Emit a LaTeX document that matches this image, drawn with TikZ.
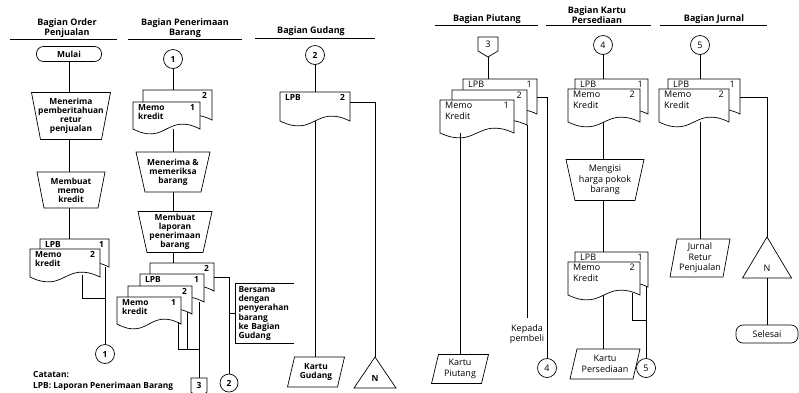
\documentclass[tikz,border=0pt]{standalone}
\usepackage{fontspec}
\setmainfont{Open Sans}
\usetikzlibrary{calc}
\tikzset{
  every node/.style={font=\fontsize{9}{10.4}\selectfont},
  ln/.style={line width=0.7pt, line join=miter},
  hdr/.style={font=\fontsize{9}{10}\selectfont\bfseries, align=center, inner sep=0pt},
  bt/.style={font=\fontsize{8.4}{9.1}\selectfont\bfseries},
  txt/.style={align=center, inner sep=0pt},
  ltxt/.style={align=left, inner sep=0pt},
  frame/.style={rectangle, draw=none, inner sep=0pt, outer sep=0pt},
  term/.style={draw, line width=0.7pt, rounded corners=7pt, inner sep=0pt},
  conn/.style={draw, circle, line width=0.7pt, inner sep=0pt, minimum size=19pt},
}
% document symbol: name, x left, y top, width, side height, text, number, font style
\newcommand\fcdoc[8]{%
  \node[frame, anchor=north west, minimum width=#4pt, minimum height=#5pt] (#1) at (#2,#3) {};
  \filldraw[ln, fill=white] (#1.north west) -- (#1.north east) -- (#1.south east)
    .. controls ($(#1.south)+(0,-17)$) and ($(#1.south)+(0,17)$) .. (#1.south west) -- cycle;
  \node[ltxt, #8, anchor=north west] (#1-t) at ($(#1.north west)+(5,2)$) {#6};
  \node[ltxt, #8, anchor=north east] (#1-n) at ($(#1.north east)+(-5,2)$) {#7};
}
% manual operation: name, centre, width, height, inset, text, font style
\newcommand\fcmanop[7]{%
  \node[frame, #7, minimum width=#3pt, minimum height=#4pt, align=center] (#1) at (#2) {#6};
  \draw[ln] (#1.north west) -- (#1.north east) -- ($(#1.south east)+(-#5,0)$) -- ($(#1.south west)+(#5,0)$) -- cycle;
}
% parallelogram: name, centre, width, height, text, font style
\newcommand\fcpara[6]{%
  \node[frame, #6, minimum width=#3pt, minimum height=#4pt, align=center] (#1) at (#2) {#5};
  \draw[ln] ($(#1.north west)+(7,0)$) -- (#1.north east) -- ($(#1.south east)+(-7,0)$) -- (#1.south west) -- cycle;
}
% triangle: name, centre, width, height, font style
\newcommand\fctri[5]{%
  \node[frame, minimum width=#3pt, minimum height=#4pt] (#1) at (#2) {};
  \draw[ln] (#1.south west) -- (#1.south east) -- (#1.north) -- cycle;
  \node[txt, #5] (#1-t) at ($(#1.south)+(0,-10)$) {N};
}
% off-page connector: name, centre of box, width, text, font style
\newcommand\fcoff[5]{%
  \node[frame, #5, minimum width=#3pt, minimum height=14pt] (#1) at (#2) {#4};
  \draw[ln] (#1.south west) -- (#1.north west) -- (#1.north east) -- (#1.south east) -- ($(#1.south)+(0,6)$) -- cycle;
}
\begin{document}
\begin{tikzpicture}[x=1pt, y=-1pt]
\clip (0,0) rectangle (799,392);
\fill[white] (0,0) rectangle (799,392);

% ---------- headers ----------
\node[hdr] (h1) at (67,28) {Bagian Order\\Penjualan};
\node[hdr] (h2) at (185,28) {Bagian Penerimaan\\Barang};
\node[hdr] (h3) at (311,31) {Bagian Gudang};
\node[hdr] (h4) at (487,19) {Bagian Piutang};
\node[hdr] (h5) at (597,15) {Bagian Kartu\\Persediaan};
\node[hdr] (h6) at (714,19) {Bagian Jurnal};
\draw[ln] (10,39) -- (117,39);
\draw[ln] (128,39) -- (242,39);
\draw[ln] (255,38) -- (375,38);
\draw[ln] (435,25) -- (538,25);
\draw[ln] (546,25) -- (651,25);
\draw[ln] (660,25) -- (767,25);

% ---------- column 1 ----------
\node[term, bt, minimum width=65pt, minimum height=15pt] (mulai) at (69,54) {Mulai};
\fcmanop{t1}{71,116}{79}{47}{9}{Menerima\\pemberitahuan\\retur\\penjualan}{bt}
\fcmanop{t2}{71,190}{68}{36}{7}{Membuat\\memo\\kredit}{bt}
\fcdoc{d1b}{40}{239}{69}{28}{LPB}{1}{bt}
\fcdoc{d1f}{30}{249}{70}{28}{Memo\\kredit}{2}{bt}
\node[conn, bt] (c1) at (105,354) {1};
\coordinate (j1) at (105,298);
\draw[ln] (mulai.south) -- (mulai.south |- t1.north);
\draw[ln] (mulai.south |- t1.south) -- (mulai.south |- t2.north);
\draw[ln] (mulai.south |- t2.south) -- (mulai.south |- d1b.north);
\draw[ln] (c1.north |- d1b.south east) -- (c1.north);
\draw[ln] ($(d1f.south)+(17,-2)$) |- (j1);
\node[ltxt, bt, anchor=west] (cat1) at (33,375) {Catatan:};
\node[ltxt, bt, anchor=west] (cat2) at (33,386.5) {LPB: Laporan Penerimaan Barang};

% ---------- column 2 ----------
\node[conn, bt] (c2a) at (173,59) {1};
\fcdoc{d2b}{143}{90}{69}{30}{}{2}{bt}
\fcdoc{d2f}{133}{102}{67}{27}{Memo\\kredit}{1}{bt}
\fcmanop{t3}{173,172}{74}{40}{9}{Menerima \&\\memeriksa\\barang}{bt}
\fcmanop{t4}{175,232}{74}{41}{9}{Membuat\\laporan\\penerimaan\\barang}{bt}
\fcdoc{dA}{150}{263}{64}{28}{}{2}{bt}
\fcdoc{dB}{140}{274}{64}{28}{LPB}{1}{bt}
\fcdoc{dC}{128}{286}{64}{28}{}{2}{bt}
\fcdoc{dD}{117}{297}{64}{27}{Memo\\kredit}{1}{bt}
\fcoff{off3}{199,385}{16}{3}{bt}
\node[conn, bt, minimum size=18pt] (c2b) at (229,383) {2};
\node[frame, bt, minimum width=57pt, minimum height=57pt, text width=52pt, inner sep=3pt, align=left] (ann) at (264.5,313.5)
  {Bersama\\dengan\\penyerahan\\barang\\ke Bagian\\Gudang};
\draw[ln] (ann.north east) -- (ann.north west) -- (ann.south west) -- (ann.south east);
\coordinate (j2) at (199,349);
\draw[ln] (c2a.south) -- (c2a.south |- d2b.north);
\draw[ln] (c2a.south |- d2f.south) -- (c2a.south |- t3.north);
\draw[ln] (c2a.south |- t3.south) -- (c2a.south |- t4.north);
\draw[ln] (c2a.south |- t4.south) -- (c2a.south |- dA.north);
\draw[ln] ($(dD.south east)+(-3,-2)$) |- (j2);
\draw[ln] ($(dC.south east)+(-5,-2)$) |- (j2);
\draw[ln] (off3.north |- dB.south east) -- (off3.north);
\draw[ln] (dA.east) -| (c2b.north);
\draw[ln] (c2b.north |- ann.west) -- (ann.west);

% ---------- column 3 ----------
\node[conn, bt] (c3) at (315,55) {2};
\fcdoc{d3}{280}{92}{70}{29}{LPB}{2}{bt}
\fcpara{kg}{316,372}{57}{30}{Kartu\\Gudang}{bt}
\fctri{n1}{375,372.5}{42}{31}{bt}
\draw[ln] (c3.south) -- (c3.south |- d3.north);
\draw[ln] (c3.south |- d3.south) -- (c3.south |- kg.north);
\draw[ln] ($(d3.north east)+(0,10)$) -| (n1.north);

% ---------- column 4 ----------
\fcoff{off4}{488,44}{20}{3}{}
\fcdoc{d4a}{463}{79}{74}{35}{LPB}{1}{}
\fcdoc{d4b}{452}{90}{75}{35}{}{2}{}
\fcdoc{d4c}{440}{100}{74}{33}{Memo\\Kredit}{1}{}
\fcpara{kp}{460,369}{57}{29}{Kartu\\Piutang}{}
\node[txt] (kep) at (527,334) {Kepada\\pembeli};
\node[conn] (c4b) at (547,368) {4};
\draw[ln] ($(off4.south)+(0,6)$) -- (off4.south |- d4a.north);
\draw[ln] (kp.north |- d4c.south) -- (kp.north);
\draw[ln] (kep.north |- d4b.south east) -- ($(kep.north)+(0,-6)$);
\draw[ln] ($(d4a.north east)+(0,18)$) -| (c4b.north);

% ---------- column 5 ----------
\node[conn] (c5a) at (603,45) {4};
\fcdoc{d5a}{575}{79}{73}{35}{LPB}{1}{}
\fcdoc{d5b}{568}{89}{72}{33}{Memo\\Kredit}{2}{}
\fcmanop{t5}{605,180}{78}{41}{9}{Mengisi\\harga pokok\\barang}{}
\fcdoc{d5c}{575}{252}{73}{35}{LPB}{1}{}
\fcdoc{d5d}{568}{262}{72}{33}{Memo\\Kredit}{2}{}
\fcpara{kps}{605,364}{70}{30}{Kartu\\Persediaan}{}
\node[conn] (c5b) at (646,368) {5};
\coordinate (j5) at (646,320);
\draw[ln] (c5a.south) -- (c5a.south |- d5a.north);
\draw[ln] (c5a.south |- d5b.south) -- (c5a.south |- t5.north);
\draw[ln] (c5a.south |- t5.south) -- (c5a.south |- d5c.north);
\draw[ln] (c5a.south |- d5d.south) -- (c5a.south |- kps.north);
\draw[ln] ($(d5d.south east)+(-8,-2)$) |- (j5);
\draw[ln] (c5b.north |- d5c.south east) -- (c5b.north);

% ---------- column 6 ----------
\node[conn] (c6) at (700,45) {5};
\fcdoc{d6a}{668}{79}{72}{35}{LPB}{1}{}
\fcdoc{d6b}{659}{89}{70}{33}{Memo\\Kredit}{2}{}
\fcpara{jr}{700,258}{60}{38}{Jurnal\\Retur\\Penjualan}{}
\fctri{n2}{767,257.5}{49}{41}{}
\node[term, minimum width=62pt, minimum height=18pt] (sel) at (767,334) {Selesai};
\draw[ln] (c6.south) -- (c6.south |- d6a.north);
\draw[ln] (c6.south |- d6b.south) -- (c6.south |- jr.north);
\draw[ln] ($(d6a.north east)+(0,18)$) -| (n2.north);
\draw[ln] (n2.south) -- (sel.north);
\end{tikzpicture}
\end{document}
